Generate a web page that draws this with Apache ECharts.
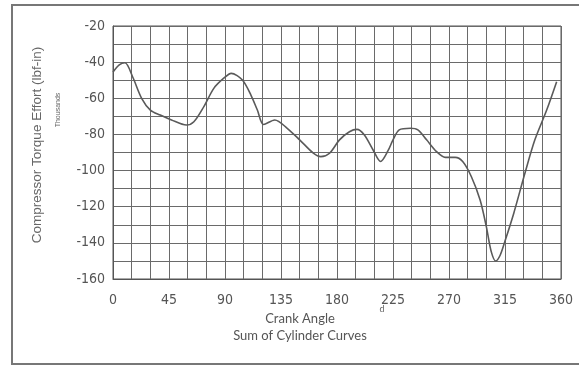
<!DOCTYPE html>
<html><head><meta charset="utf-8">
<script src="https://cdn.jsdelivr.net/npm/echarts@6/dist/echarts.min.js"></script>
<style>html,body{margin:0;padding:0;background:#fff}#c{width:579px;height:367px}</style>
</head><body><div id="c"></div>
<script>
const angles = [0,5,9.6,16,23,30,38,47,59,65,73,81,89,95,104,111,116,121,130,140,150,161,167,174,182,190,196,202,209,215,221,225,230,239,245,252,260,267,275,281,288,295,300,304,307.5,311,315,322,331,339,348.5,356.5];
const torque = [-45.5,-41.5,-40.3,-48.5,-60,-66.5,-69.3,-72,-74.8,-73,-64.6,-54.5,-48.9,-46.2,-49.9,-58.5,-66.5,-74.5,-72,-76.6,-83,-90.4,-92.3,-90.4,-83,-78.5,-77.2,-80.3,-88.6,-95,-89,-83,-77.5,-76.6,-77.5,-83,-89.5,-92.7,-92.7,-95,-103.4,-116.3,-131,-145,-150,-147,-139,-123.7,-101.5,-83,-66.5,-50.8];
const xTitle = "Crank Angle";
const xSub = "Sum of Cylinder Curves";
const yTitle = "Compressor Torque Effort (lbf-in)";
const yUnit = "Thousands";

const chart = echarts.init(document.getElementById('c'));
const numFont = "'Liberation Sans Narrow','DejaVu Sans Condensed',sans-serif";
chart.setOption({
  animation:false,
  backgroundColor:'#fff',
  grid:{left:113, top:26, right:18, bottom:88, show:true, borderColor:'#555', borderWidth:1},
  xAxis:{type:'value', min:0, max:360, interval:15,
    axisLine:{show:true, lineStyle:{color:'#555'}}, axisTick:{show:false},
    splitLine:{show:true, lineStyle:{color:'#6a6a6a', width:1}},
    axisLabel:{margin:14, color:'#555', fontSize:14, fontFamily:numFont,
      formatter:v=> (v%45===0? String(v):'')}},
  yAxis:{type:'value', min:-160, max:-20, interval:10,
    axisLine:{show:true, lineStyle:{color:'#555'}}, axisTick:{show:false},
    splitLine:{show:true, lineStyle:{color:'#6a6a6a', width:1}},
    axisLabel:{margin:8, color:'#555', fontSize:14, fontFamily:numFont,
      formatter:v=> (v%20===0? String(v):'')}},
  series:[{type:'line', data:angles.map((a,i)=>[a,torque[i]]), smooth:0.3, showSymbol:false,
    lineStyle:{color:'#5a5a5a', width:1.6}}],
  graphic:[
    {type:'rect', shape:{x:12, y:5, width:600, height:359}, style:{fill:'none', stroke:'#777', lineWidth:2}},
    {type:'text', x:300, y:319, style:{text:xTitle, font:"13px 'Lato',sans-serif", fill:'#555', align:'center', verticalAlign:'middle'}},
    {type:'text', x:300, y:336, style:{text:xSub, font:"13px 'Lato',sans-serif", fill:'#555', align:'center', verticalAlign:'middle'}},
    {type:'text', x:382, y:309, style:{text:'d', font:"9px 'Lato',sans-serif", fill:'#666', align:'center', verticalAlign:'middle'}},
    {type:'text', x:37, y:145, rotation:Math.PI/2, style:{text:yTitle, font:"13.5px 'Liberation Sans',sans-serif", fill:'#666', align:'center', verticalAlign:'middle'}},
    {type:'text', x:58, y:110, rotation:Math.PI/2, style:{text:yUnit, font:"7px 'Liberation Sans',sans-serif", fill:'#666', align:'center', verticalAlign:'middle'}}
  ]
});
</script></body></html>
